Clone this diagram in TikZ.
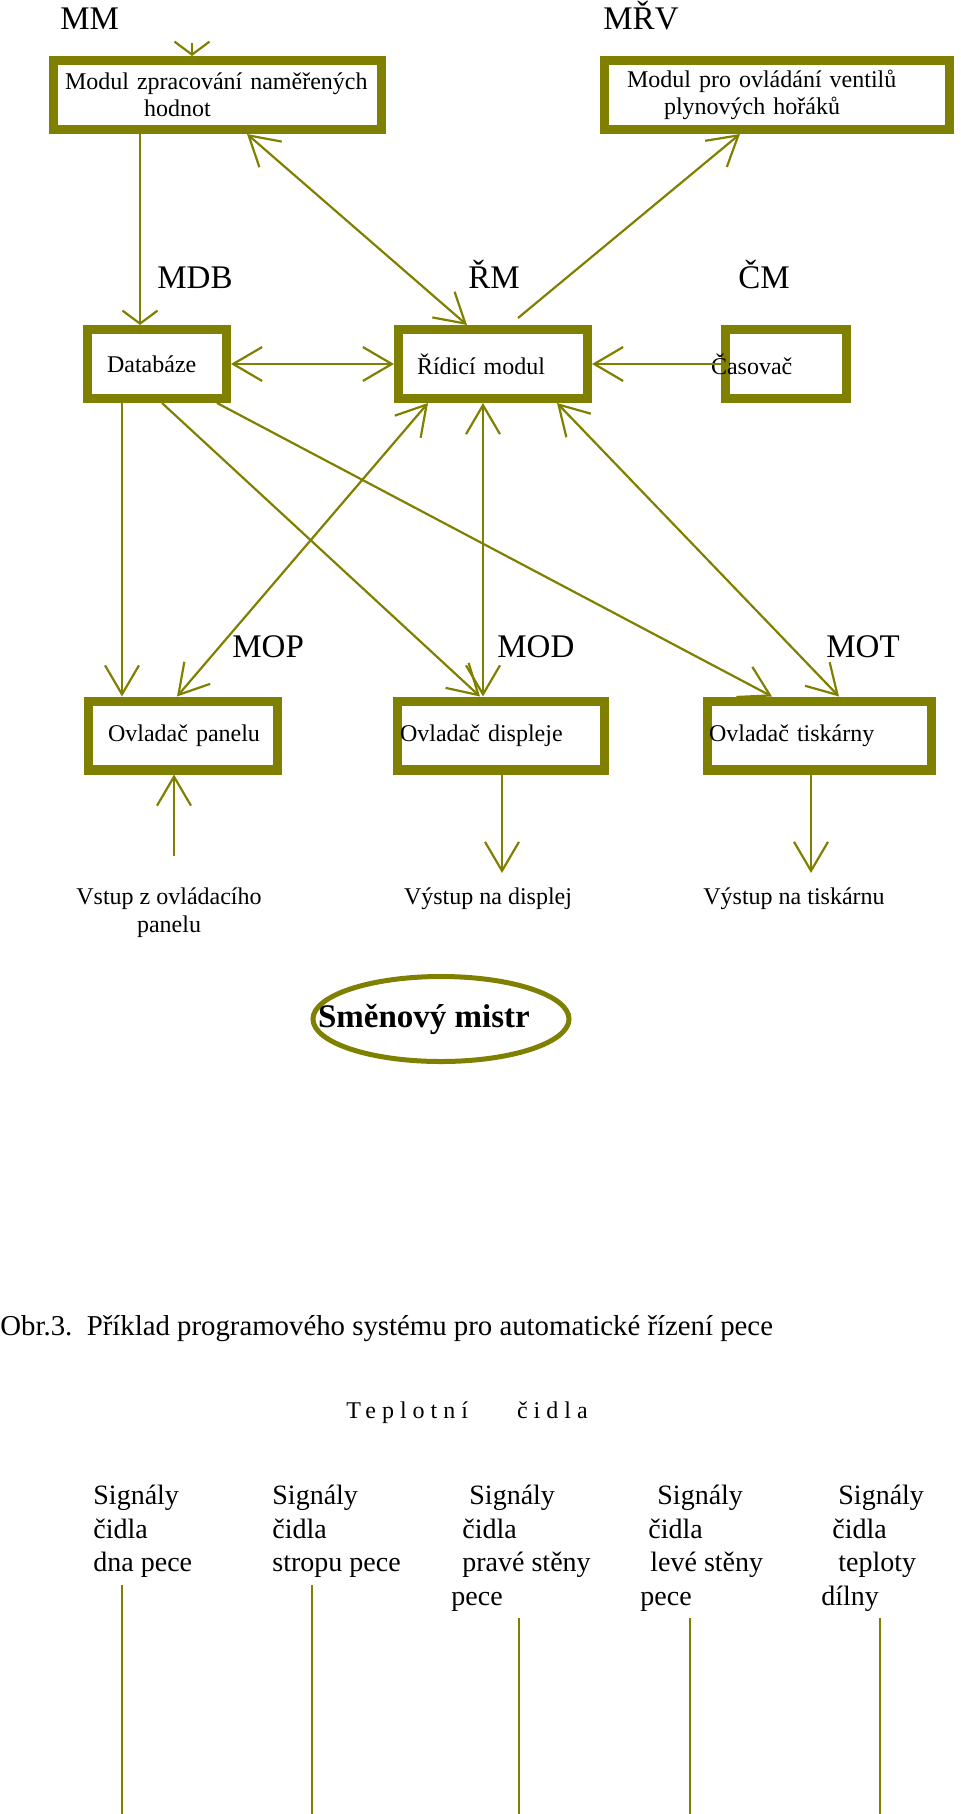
\documentclass[tikz,border=0pt]{standalone}
\usepackage{fontspec}
\setmainfont{Liberation Serif}
\usetikzlibrary{arrows.meta,calc,shapes.geometric}
\definecolor{olivebox}{RGB}{128,128,0}
\setlength{\parindent}{0pt}

\begin{document}
\begin{tikzpicture}[x=0.5pt,y=-0.5pt,
        >={Straight Barb[length=14.5pt,width=17pt]},
        modbox/.style={draw=olivebox,line width=4.65pt,fill=white,inner xsep=0pt,inner ysep=0pt,
            align=left,minimum height=34.35pt,font=\fontsize{12}{13.5}\selectfont},
        tag/.style={anchor=base west,inner sep=0pt,font=\fontsize{16.5}{19}\selectfont},
        wire/.style={draw=olivebox,line width=1.1pt},
        shorttip/.style={-{Straight Barb[length=6.5pt,width=17.5pt]}},
        lbl/.style={inner sep=0pt,align=center,font=\fontsize{12}{14}\selectfont},
        sig/.style={anchor=north west,inner sep=0pt,align=left,font=\fontsize{14}{16.7}\selectfont}]
    \useasboundingbox (0,0) rectangle (960,1814);
    % modules
    \node[modbox,text width=163.85pt] (mm) at (217.5,95) {\hspace*{5.7pt}Modul zpracování naměřených\\\hspace*{45.2pt}hodnot};
    \node[modbox,text width=172.35pt] (mrv) at (777,95) {\hspace*{11.2pt}Modul pro ovládání ventilů\\\hspace*{29.7pt}plynových hořáků};
    \node[modbox,text width=69.35pt] (db) at (157,364) {\hspace*{9.7pt}Databáze};
    \node[modbox,text width=94.35pt] (rm) at (493,364) {\hspace*{9.2pt}Řídicí modul};
    \node[modbox,text width=60.35pt] (cas) at (786,364) {\hspace*{-7.3pt}Časovač};
    \node[modbox,text width=94.35pt] (op) at (183,735.5) {\hspace*{9.7pt}Ovladač panelu};
    \node[modbox,text width=103.35pt] (od) at (501,735.5) {\hspace*{1.2pt}Ovladač displeje};
    \node[modbox,text width=111.85pt] (ot) at (819.5,735.5) {\hspace*{0.7pt}Ovladač tiskárny};
    % short names
    \node[tag] (tmm) at (60,30) {MM};
    \node[tag] (tmrv) at (603,30) {MŘV};
    \node[tag] (tmdb) at (157,288) {MDB};
    \node[tag] (trm) at (468,288) {ŘM};
    \node[tag] (tcm) at (738,288) {ČM};
    \node[tag] (tmop) at (232,657) {MOP};
    \node[tag] (tmod) at (497,657) {MOD};
    \node[tag] (tmot) at (826,657) {MOT};
    % connections
    \draw[wire,shorttip] ($(mm.north)+(-25.5,-13)$) -- ($(mm.north)+(-25.5,0)$);
    \draw[wire,shorttip] ($(mm.south)+(-77.5,0)$) -- ($(db.north)+(-17,0)$);
    \draw[wire,<->] ($(mm.south)+(29.5,0)$) -- ($(rm.north)+(-26,0)$);
    \draw[wire,<->] (db) -- (rm);
    \draw[wire,->] ($(rm.north)+(25,-7)$) -- ($(mrv.south)+(-37,0)$);
    \draw[wire,->] (cas) -- (rm);
    \draw[wire,->] ($(db.south)+(-35,0)$) -- ($(op.north)+(-61,0)$);
    \draw[wire,->] ($(db.south)+(5,0)$) -- ($(od.north)+(-21,0)$);
    \draw[wire,->] ($(db.south)+(60,0)$) -- ($(ot.north)+(-47.5,0)$);
    \draw[wire,<->] ($(rm.south)+(-65,0)$) -- ($(op.north)+(-6,0)$);
    \draw[wire,<->] ($(rm.south)+(-10,0)$) -- ($(od.north)+(-18,0)$);
    \draw[wire,<->] ($(rm.south)+(64,0)$) -- ($(ot.north)+(19.5,0)$);
    % inputs and outputs
    \coordinate (vin) at (174,856);
    \coordinate (dout) at (502,873);
    \coordinate (tout) at (811,873);
    \draw[wire,->] (vin) -- (vin |- op.south);
    \draw[wire,->] (dout |- od.south) -- (dout);
    \draw[wire,->] (tout |- ot.south) -- (tout);
    \node[lbl] (vstup) at (169,913) {Vstup z ovládacího\\panelu};
    \node[lbl] (vdisp) at (488,899) {Výstup na displej};
    \node[lbl] (vtisk) at (794,899) {Výstup na tiskárnu};
    \node[draw=olivebox,line width=2.5pt,ellipse,minimum width=128pt,minimum height=42.5pt,inner sep=0pt,
        font=\bfseries\fontsize{16.5}{19}\selectfont] (mistr) at (441,1019) {\makebox[0pt]{\kern-17pt Směnový mistr}};
    % caption and sensors
    \node[anchor=west,inner sep=0pt,font=\fontsize{14.4}{16.5}\selectfont] (obr) at (0,1329)
        {Obr.3.~~Příklad programového systému pro automatické řízení pece};
    \node[anchor=west,inner sep=0pt,font=\fontsize{12}{14}\selectfont\addfontfeature{LetterSpace=25}] (cidla) at (346,1413)
        {Teplotní\hspace{24.5pt}čidla};
    \node[sig] (s1) at (93,1485) {Signály\\čidla\\dna pece};
    \node[sig] (s2) at (272,1485) {Signály\\čidla\\stropu pece};
    \node[sig] (s3) at (451,1485) {\hspace*{9pt}Signály\\\hspace*{5.5pt}čidla\\\hspace*{5.5pt}pravé stěny\\pece};
    \node[sig] (s4) at (640,1485) {\hspace*{8.5pt}Signály\\\hspace*{4pt}čidla\\\hspace*{5pt}levé stěny\\pece};
    \node[sig] (s5) at (821,1485) {\hspace*{8.5pt}Signály\\\hspace*{5.5pt}čidla\\\hspace*{8.5pt}teploty\\dílny};
    \foreach \x/\y in {122/1585,312/1585,519/1618,690/1618,880/1618}
        \draw[wire] (\x,\y) -- (\x,1814);
\end{tikzpicture}
\end{document}
